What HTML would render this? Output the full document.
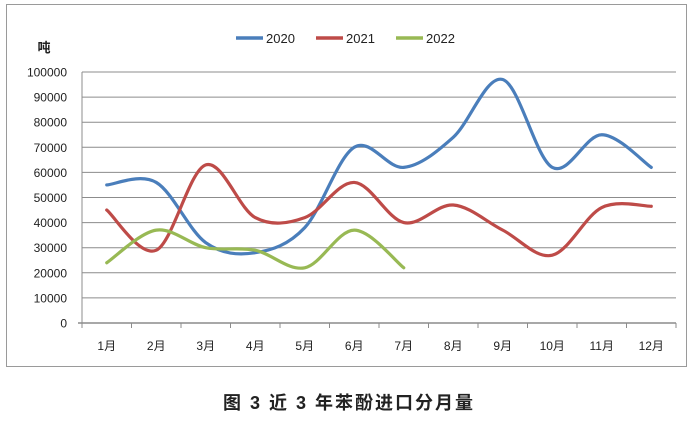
<!DOCTYPE html>
<html><head><meta charset="utf-8">
<style>
html,body{margin:0;padding:0;background:#fff;width:698px;height:422px;overflow:hidden}
svg{display:block;font-family:"Liberation Sans","Noto Sans CJK SC",sans-serif}
</style></head>
<body>
<svg id="chart" width="698" height="422" viewBox="0 0 698 422" xmlns="http://www.w3.org/2000/svg">
  <rect x="6.5" y="4.5" width="680" height="362" fill="#fff" stroke="#9a9a9a" stroke-width="1"/>
  <g id="grid"></g>
  <g id="axes"></g>
  <g id="series"></g>
  <text x="44" y="52" font-size="13" font-weight="bold" fill="#222" text-anchor="middle" font-family="Liberation Sans, Noto Sans CJK SC, sans-serif">吨</text>
  <g>
    <g><line x1="236" y1="38" x2="263" y2="38" stroke="#4a7ebb" stroke-width="3.5"/><text x="266" y="43" font-size="13" fill="#222">2020</text></g>
    <g><line x1="316" y1="38" x2="343" y2="38" stroke="#be4b48" stroke-width="3.5"/><text x="346" y="43" font-size="13" fill="#222">2021</text></g>
    <g><line x1="396" y1="38" x2="423" y2="38" stroke="#98b954" stroke-width="3.5"/><text x="426" y="43" font-size="13" fill="#222">2022</text></g>
  </g>
  <text x="349" y="409" font-size="18" font-weight="bold" fill="#222" text-anchor="middle" letter-spacing="2" font-family="Liberation Sans, Noto Sans CJK SC, sans-serif">图 3  近 3 年苯酚进口分月量</text>
</svg>
<script>
const categories = ["1月","2月","3月","4月","5月","6月","7月","8月","9月","10月","11月","12月"];
const yTicks = [0,10000,20000,30000,40000,50000,60000,70000,80000,90000,100000];
const s2020 = [55000,56000,32000,28000,38000,70000,62000,74000,97000,62000,75000,62000];
const s2021 = [45000,29000,63000,42000,42000,56000,40000,47000,37000,27000,46000,46500];
const s2022 = [24000,37000,30000,29000,22000,37000,22000];

const NS = "http://www.w3.org/2000/svg";
const L = 82, R = 676, T = 72, B = 323, YMAX = 100000;
const bw = (R - L) / categories.length;
function xPos(i){ return L + bw * (i + 0.5); }
function yPos(v){ return B - (v / YMAX) * (B - T); }
function mk(tag, attrs, parent){ const e = document.createElementNS(NS, tag); for (const k in attrs) e.setAttribute(k, attrs[k]); parent.appendChild(e); return e; }

const grid = document.getElementById('grid'), axes = document.getElementById('axes'), series = document.getElementById('series');
yTicks.forEach(v => {
  const y = yPos(v);
  if (v > 0) {
    const g = mk('line', {x1:L, x2:R, y1:y, y2:y, stroke:'#8c8c8c', 'stroke-width':1}, grid);
    
    
  }
  const t = mk('text', {x:67, y:y+4.5, 'font-size':12, fill:'#222', 'text-anchor':'end'}, axes);
  t.textContent = v;
  
  
});
const ya = mk('line', {x1:L, x2:L, y1:T, y2:B+4, stroke:'#8c8c8c', 'stroke-width':1}, axes);


const xa = mk('line', {x1:L-4, x2:R, y1:B, y2:B, stroke:'#8c8c8c', 'stroke-width':1.5}, axes);


for (let i = 0; i <= categories.length; i++) {
  const tk = mk('line', {x1:L+bw*i, x2:L+bw*i, y1:B, y2:B+5, stroke:'#8c8c8c', 'stroke-width':1}, axes);
  
  
}
categories.forEach((c, i) => {
  const t = mk('text', {x:xPos(i), y:B+27, 'font-size':12, fill:'#222', 'text-anchor':'middle'}, axes);
  t.textContent = c;
  
  
});

function smoothPath(vals){
  const p = vals.map((v,i)=>[xPos(i), yPos(v)]);
  let d = `M${p[0][0]},${p[0][1]}`;
  const k = 0.5/3*2;
  for (let i = 0; i < p.length-1; i++) {
    const p0 = p[i-1] || p[i], p1 = p[i], p2 = p[i+1], p3 = p[i+2] || p[i+1];
    const c1 = [p1[0] + (p2[0]-p0[0])*k/2, p1[1] + (p2[1]-p0[1])*k/2];
    const c2 = [p2[0] - (p3[0]-p1[0])*k/2, p2[1] - (p3[1]-p1[1])*k/2];
    d += ` C${c1[0]},${c1[1]} ${c2[0]},${c2[1]} ${p2[0]},${p2[1]}`;
  }
  return d;
}
[[s2020,'#4a7ebb','series-2020'],[s2021,'#be4b48','series-2021'],[s2022,'#98b954','series-2022']].forEach(([vals,col,name]) => {
  const path = mk('path', {d:smoothPath(vals), fill:'none', stroke:col, 'stroke-width':3.2, 'stroke-linecap':'round', 'stroke-linejoin':'round'}, series);
  
  
});
</script>
</body></html>
